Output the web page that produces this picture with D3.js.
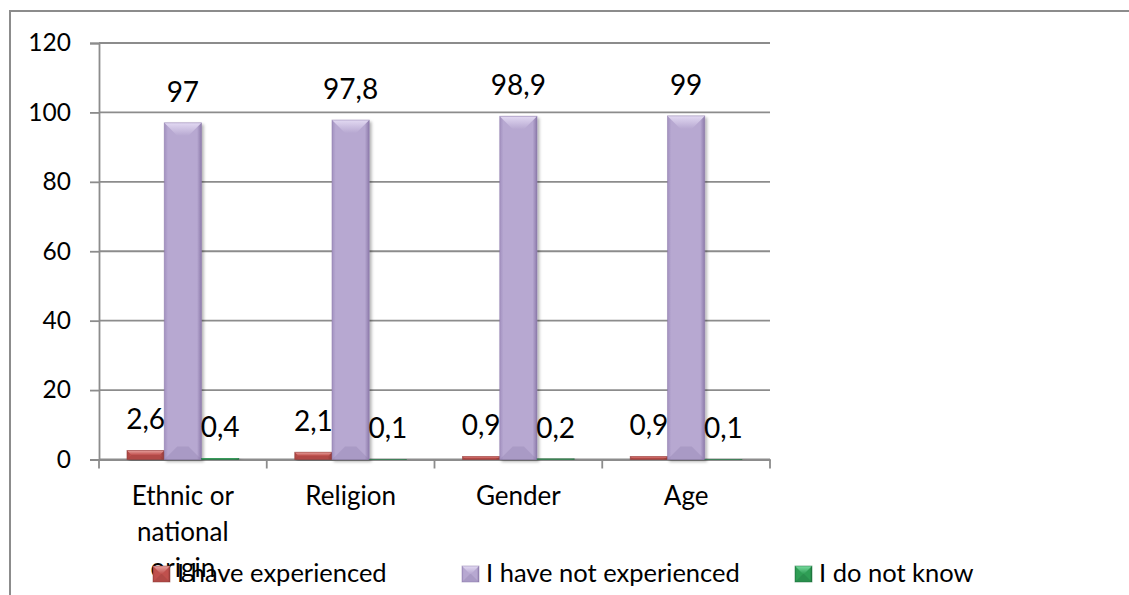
<!DOCTYPE html>
<html>
<head>
<meta charset="utf-8">
<script src="https://cdn.jsdelivr.net/npm/d3@7"></script>
<style>
  html, body { margin: 0; padding: 0; background: #fff; }
  svg { display: block; }
  text { font-family: Lato, "Open Sans", sans-serif; fill: #000; }
</style>
</head>
<body>
<svg id="chart" width="1129" height="595"></svg>
<script>
// ---- data ----
const categories = ["Ethnic or national origin", "Religion", "Gender", "Age"];
const categoryLines = [["Ethnic or", "national", "origin"], ["Religion"], ["Gender"], ["Age"]];
const seriesNames = ["I have experienced", "I have not experienced", "I do not know"];
const experienced = [2.6, 2.1, 0.9, 0.9];
const notExperienced = [97, 97.8, 98.9, 99];
const doNotKnow = [0.4, 0.1, 0.2, 0.1];
const valueLabels = [
  ["2,6", "2,1", "0,9", "0,9"],
  ["97", "97,8", "98,9", "99"],
  ["0,4", "0,1", "0,2", "0,1"]
];
const yTicks = [0, 20, 40, 60, 80, 100, 120];

const seriesValues = [experienced, notExperienced, doNotKnow];
const palette = [
  { main: "#c0504d", light: "#e6a09d", dark: "#8e3a38", edge: "#a94542" },
  { main: "#b7a8d1", light: "#e2d9f2", dark: "#8c7aaa", edge: "#a190bf" },
  { main: "#2f9e55", light: "#79dca0", dark: "#1d6e3a", edge: "#268a4a" }
];

const svg = d3.select("#chart");
const plot = { left: 99, right: 770, top: 43, bottom: 459.5 };

// outer chart border
svg.append("rect")
  .attr("x", 10).attr("y", 11).attr("width", 1400).attr("height", 800)
  .attr("fill", "none").attr("stroke", "#8c8c8c").attr("stroke-width", 2);

const y = d3.scaleLinear().domain([0, 120]).range([plot.bottom, plot.top]);
const x0 = d3.scaleBand().domain(categories).range([plot.left, plot.right])
  .paddingInner(1 / 3).paddingOuter(1 / 6);
const x1 = d3.scaleBand().domain(d3.range(seriesNames.length)).range([0, x0.bandwidth()]);

// gradients
const defs = svg.append("defs");
palette.forEach((p, i) => {
  const g = defs.append("linearGradient").attr("id", "grad" + i)
    .attr("x1", "0").attr("x2", "1").attr("y1", "0").attr("y2", "0");
  g.append("stop").attr("offset", "0%").attr("stop-color", p.edge);
  g.append("stop").attr("offset", "10%").attr("stop-color", p.main);
  g.append("stop").attr("offset", "88%").attr("stop-color", p.main);
  g.append("stop").attr("offset", "100%").attr("stop-color", p.dark);
  const t = defs.append("linearGradient").attr("id", "top" + i)
    .attr("x1", "0").attr("x2", "0").attr("y1", "0").attr("y2", "1");
  t.append("stop").attr("offset", "0%").attr("stop-color", p.light);
  t.append("stop").attr("offset", "100%").attr("stop-color", p.main);
});
const shadow = defs.append("filter").attr("id", "shadow")
  .attr("x", "-20%").attr("y", "-5%").attr("width", "140%").attr("height", "115%");
shadow.append("feDropShadow").attr("dx", 2).attr("dy", 2).attr("stdDeviation", 1.8)
  .attr("flood-color", "#000").attr("flood-opacity", 0.3);

// gridlines
svg.append("g").selectAll("line").data(yTicks).join("line")
  .attr("x1", plot.left).attr("x2", plot.right)
  .attr("y1", d => y(d)).attr("y2", d => y(d))
  .attr("stroke", "#8c8c8c").attr("stroke-width", 1.8);

// y axis
const yAxis = svg.append("g").attr("transform", `translate(${plot.left},0)`)
  .call(d3.axisLeft(y).tickValues(yTicks).tickSize(9).tickPadding(19));
yAxis.select(".domain").attr("stroke", "#8c8c8c").attr("stroke-width", 1.8);
yAxis.selectAll(".tick line").attr("stroke", "#8c8c8c").attr("stroke-width", 1.8);
yAxis.selectAll(".tick text").attr("font-size", 24.5).attr("font-family", "Lato, sans-serif").attr("fill", "#000");

// x axis
const xAxis = svg.append("g").attr("transform", `translate(0,${plot.bottom})`)
  .call(d3.axisBottom(x0).tickSize(0).tickFormat(""));
xAxis.select(".domain").attr("stroke", "#8c8c8c").attr("stroke-width", 1.8);
const boundaries = categories.map(c => x0(c) - x0.step() * x0.paddingInner() / 2)
  .concat([plot.right]);
xAxis.selectAll(".bound").data(boundaries).join("line").attr("class", "bound")
  .attr("x1", d => d).attr("x2", d => d).attr("y1", 0).attr("y2", 9)
  .attr("stroke", "#8c8c8c").attr("stroke-width", 1.8);

// bevelled bar drawing
function drawBevel(g, bx, by, bw, bh, i, bevel) {
  const p = palette[i];
  g.append("rect").attr("x", bx).attr("y", by).attr("width", bw).attr("height", bh)
    .attr("fill", `url(#grad${i})`);
  const b = Math.min(bevel, bh / 2, bw / 2);
  if (b > 0.5) {
    g.append("path")
      .attr("d", `M${bx},${by}L${bx + bw},${by}L${bx + bw - b},${by + b}L${bx + b},${by + b}Z`)
      .attr("fill", `url(#top${i})`);
    g.append("path")
      .attr("d", `M${bx},${by + bh}L${bx + bw},${by + bh}L${bx + bw - b},${by + bh - b}L${bx + b},${by + bh - b}Z`)
      .attr("fill", p.dark).attr("opacity", 0.3);
  }
  g.append("rect").attr("x", bx).attr("y", by).attr("width", bw).attr("height", bh)
    .attr("fill", "none").attr("stroke", p.dark).attr("stroke-width", 0.8).attr("stroke-opacity", 0.6);
}

const barsG = svg.append("g");
seriesValues.forEach((vals, i) => {
  vals.forEach((v, j) => {
    const bx = x0(categories[j]) + x1(i);
    const by = y(v);
    const bh = y(0) - y(v);
    const g = barsG.append("g").attr("filter", "url(#shadow)");
    drawBevel(g, bx, by, x1.bandwidth(), bh, i, 13);
  });
});

// value labels
seriesValues.forEach((vals, i) => {
  svg.append("g").selectAll("text").data(vals).join("text")
    .attr("x", (d, j) => x0(categories[j]) + x1(i) + x1.bandwidth() / 2)
    .attr("y", d => y(d) - 21)
    .attr("text-anchor", "middle")
    .attr("font-size", 28)
    .text((d, j) => valueLabels[i][j]);
});

// category labels
categories.forEach((c, j) => {
  const t = svg.append("text")
    .attr("x", x0(c) + x0.bandwidth() / 2).attr("y", 505)
    .attr("text-anchor", "middle").attr("font-size", 26);
  categoryLines[j].forEach((ln, k) => {
    t.append("tspan").attr("x", x0(c) + x0.bandwidth() / 2).attr("dy", k === 0 ? 0 : 36).text(ln);
  });
});

// legend
const legendX = [153, 462, 795];
const legend = svg.append("g");
seriesNames.forEach((name, i) => {
  const g = legend.append("g");
  drawBevel(g, legendX[i], 566, 17, 16, i, 8);
  legend.append("text").attr("x", legendX[i] + 24).attr("y", 582)
    .attr("font-size", 25.5).text(name);
});
</script>
</body>
</html>
